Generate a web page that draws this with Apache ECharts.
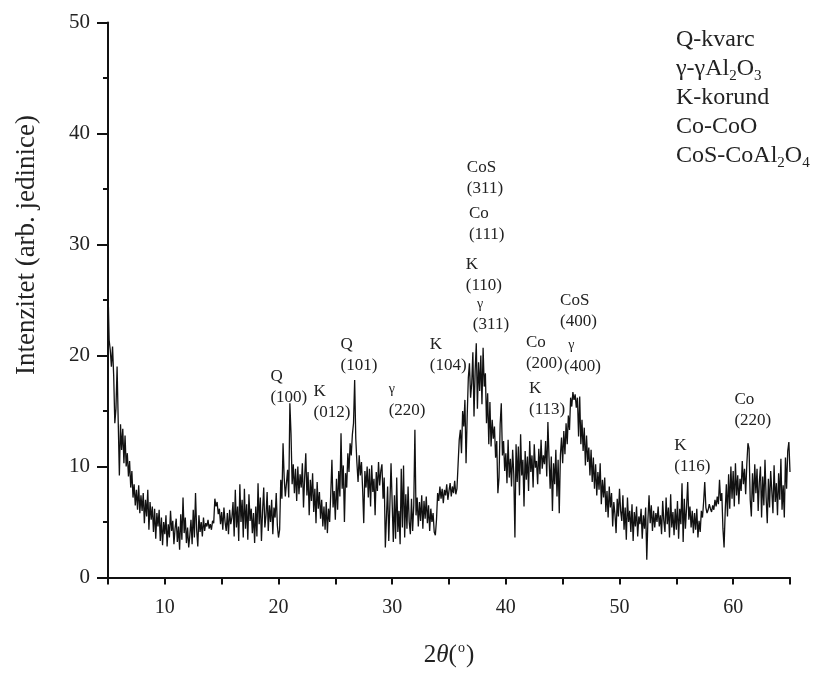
<!DOCTYPE html>
<html>

<head>
	<meta charset="UTF-8">
	<title>XRD</title>
	<style>
		html, body { margin: 0; padding: 0; background: #fff; }
		#chart1 { width: 829px; height: 673px; }
	</style>
	<script src="https://cdn.jsdelivr.net/npm/echarts@6/dist/echarts.min.js"></script>
</head>

<body>
	<div id="chart1"></div>
	<script>
		// 2theta grid of the scan (degrees)
		var thetaStart = 5, thetaStep = 0.1;

		// intensity, one row per degree (5.0 .. 65.0)
		var intensity = [
			26.0, 21.4, 20.5, 19.0, 20.8, 18.2, 13.9, 15.2, 19.0, 14.0,
			9.2, 13.8, 11.5, 13.4, 10.3, 12.8, 10.0, 11.2, 9.1, 10.5,
			8.1, 9.6, 7.2, 8.4, 6.5, 7.9, 6.1, 8.3, 5.8, 7.4,
			6.0, 7.6, 4.9, 7.0, 5.5, 7.9, 4.3, 6.8, 5.2, 6.4,
			4.1, 6.2, 3.5, 5.8, 4.6, 6.1, 3.3, 5.4, 2.9, 5.0,
			3.9, 5.6, 2.8, 4.8, 3.6, 6.0, 4.2, 5.1, 3.0, 4.4,
			5.3, 3.2, 4.6, 2.5, 5.7, 3.4, 7.2, 4.0, 5.4, 3.1,
			4.5, 2.7, 3.8, 5.2, 3.0, 6.1, 3.6, 7.6, 4.3, 2.8,
			5.6, 4.1, 5.0, 3.7, 5.4, 4.2, 4.9, 4.6, 5.2, 4.4,
			4.8, 4.3, 5.1, 4.9, 7.1, 6.4, 6.8, 5.7, 6.2, 4.8,
			5.9, 4.3, 6.3, 5.0, 4.2, 5.8, 3.9, 6.1, 4.8, 5.4,
			6.8, 3.7, 7.9, 4.5, 6.4, 3.3, 8.4, 5.0, 7.0, 3.6,
			8.0, 4.4, 6.6, 3.4, 7.5, 5.1, 6.2, 4.0, 5.8, 3.1,
			6.4, 3.7, 8.5, 4.8, 7.2, 3.3, 6.0, 8.1, 4.5, 5.6,
			7.7, 4.2, 6.5, 5.0, 7.0, 3.9, 6.3, 5.4, 7.6, 4.7,
			3.6, 4.3, 8.8, 7.1, 12.1, 9.0, 7.3, 8.5, 9.7, 7.2,
			15.7, 13.0, 8.4, 10.2, 7.6, 9.8, 6.9, 10.0, 7.5, 9.3,
			8.1, 10.3, 6.3, 9.0, 11.2, 7.4, 9.5, 5.6, 8.8, 6.9,
			9.4, 5.9, 8.0, 4.9, 8.6, 6.2, 7.7, 5.3, 7.0, 4.6,
			6.4, 4.3, 6.8, 4.0, 6.2, 5.0, 7.6, 10.6, 6.3, 7.8,
			5.2, 8.9, 6.1, 9.6, 7.3, 13.0, 8.0, 10.1, 5.0, 9.4,
			8.1, 11.2, 9.5, 12.1, 11.0, 12.9, 13.9, 17.8, 12.5, 10.3,
			8.6, 11.0, 9.2, 10.4, 8.0, 4.9, 9.6, 8.1, 10.0, 7.2,
			9.8, 6.4, 10.1, 7.7, 8.9, 5.6, 9.5, 7.8, 10.4, 8.3,
			9.6, 10.2, 7.1, 9.0, 2.7, 5.5, 8.2, 3.3, 6.6, 10.3,
			10.3, 3.2, 7.4, 3.5, 9.0, 4.1, 6.0, 3.0, 9.8, 4.5,
			10.1, 3.6, 7.5, 4.4, 8.2, 5.0, 3.9, 7.1, 4.2, 6.5,
			13.3, 5.6, 7.2, 4.6, 6.8, 5.1, 7.4, 4.4, 6.9, 5.3,
			7.3, 4.9, 6.5, 4.2, 6.2, 5.0, 5.8, 4.1, 3.8, 5.2,
			7.6, 6.9, 8.2, 7.1, 8.0, 6.7, 7.9, 7.4, 8.4, 7.0,
			7.8, 8.5, 7.3, 8.2, 7.6, 8.7, 7.5, 8.0, 10.2, 12.4,
			13.3, 11.2, 15.0, 13.6, 16.0, 10.3, 14.5, 18.0, 19.3, 16.2,
			17.5, 20.3, 14.5, 18.6, 21.1, 15.2, 19.4, 16.8, 20.0, 15.6,
			20.7, 17.2, 18.4, 13.9, 16.6, 12.0, 15.8, 11.8, 14.2, 12.5,
			13.6, 10.8, 12.3, 7.6, 9.0, 13.8, 15.7, 11.0, 12.3, 9.6,
			11.2, 8.5, 12.4, 9.0, 10.7, 8.2, 11.5, 9.3, 3.6, 12.0,
			8.6, 11.8, 7.4, 12.9, 9.2, 10.6, 6.4, 11.4, 8.8, 10.9,
			7.8, 12.3, 9.5, 11.0, 8.1, 12.0, 9.9, 10.5, 8.4, 11.6,
			9.3, 12.4, 9.8, 11.0, 10.2, 12.3, 9.1, 14.0, 10.8, 8.0,
			10.9, 6.0, 10.3, 8.4, 11.5, 7.3, 10.6, 5.8, 11.0, 12.6,
			10.3, 13.2, 11.1, 13.9, 12.0, 14.6, 13.3, 16.2, 15.4, 16.7,
			16.0, 16.5, 15.3, 16.2, 12.7, 16.3, 12.0, 14.2, 11.4, 13.5,
			10.1, 12.8, 10.4, 11.7, 9.2, 11.5, 8.6, 10.8, 8.0, 10.2,
			7.4, 9.5, 7.9, 10.3, 6.6, 8.8, 7.2, 9.0, 5.9, 7.8,
			5.4, 8.2, 6.3, 7.6, 4.6, 6.8, 5.7, 4.0, 7.1, 5.5,
			8.0, 6.0, 5.1, 7.4, 4.3, 6.3, 3.4, 7.2, 5.0, 6.0,
			4.1, 6.6, 3.3, 5.9, 4.6, 6.4, 3.7, 5.5, 4.8, 6.2,
			3.5, 5.6, 4.4, 6.3, 1.6, 5.2, 7.4, 4.9, 6.5, 4.2,
			6.0, 4.5, 5.8, 5.0, 6.4, 4.6, 5.6, 3.9, 6.9, 5.1,
			4.1, 7.2, 4.8, 6.3, 3.6, 7.5, 4.5, 5.9, 3.8, 6.2,
			4.3, 6.9, 3.5, 6.2, 4.8, 8.5, 3.2, 7.1, 4.4, 6.3,
			8.6, 5.2, 6.4, 4.5, 6.0, 4.0, 5.8, 4.3, 6.2, 3.6,
			5.1, 4.1, 6.0, 5.4, 6.8, 8.6, 6.3, 5.8, 6.1, 6.6,
			6.2, 5.9, 6.5, 6.1, 7.0, 6.4, 7.3, 6.6, 8.8, 6.9,
			7.6, 4.4, 2.7, 6.0, 8.4, 5.5, 9.3, 6.2, 10.0, 7.1,
			9.6, 6.4, 10.3, 7.4, 9.2, 6.6, 8.9, 7.8, 10.5, 8.4,
			9.8, 7.5, 10.2, 12.1, 11.6, 7.0, 5.5, 9.4, 6.8, 10.2,
			7.6, 9.8, 6.0, 8.6, 10.0, 5.4, 9.1, 6.5, 10.6, 7.2,
			4.9, 8.9, 6.3, 9.6, 7.8, 5.8, 10.1, 6.8, 8.5, 5.6,
			9.4, 7.0, 10.7, 6.1, 8.3, 5.4, 10.8, 8.0, 11.4, 12.2,
			9.5
		];

		// reflection labels: [2theta, intensity] of the label's left-middle, then text
		var peakPos = [
			[19.29, 17.2], [23.08, 15.8], [25.46, 20.0], [29.69, 16.0], [33.31, 20.0],
			[36.57, 35.95], [36.75, 31.8], [36.48, 27.25], [37.1, 23.7],
			[44.77, 24.0], [41.77, 20.18], [45.12, 19.95], [42.04, 16.04],
			[54.82, 10.95], [60.11, 15.09]
		];
		var peakText = [
			'Q\n(100)', 'K\n(012)', 'Q\n(101)', '{g|γ}\n(220)', 'K\n(104)',
			'CoS\n(311)', 'Co\n(111)', 'K\n(110)', ' {g|γ}\n(311)',
			'CoS\n(400)', 'Co\n(200)', ' {g|γ}\n(400)', 'K\n(113)',
			'K\n(116)', 'Co\n(220)'
		];

		// phase key, top right
		var phaseKey = [
			'Q-kvarc',
			'γ-γAl{s|2}O{s|3}',
			'K-korund',
			'Co-CoO',
			'CoS-CoAl{s|2}O{s|4}'
		];

		var serif = '"Liberation Serif", "DejaVu Serif", serif';

		var points = intensity.map(function (v, i) {
			return [+(thetaStart + i * thetaStep).toFixed(1), v];
		});

		var marks = peakPos.map(function (p, i) {
			return { coord: p, value: peakText[i] };
		});

		var myChart = echarts.init(document.getElementById('chart1'));
		myChart.setOption({
			animation: false,
			backgroundColor: '#fff',
			grid: { left: 108, right: 39, top: 22.5, bottom: 95.5 },
			xAxis: {
				type: 'value',
				min: 5,
				max: 65,
				interval: 5,
				name: '{n|2}{i|θ}{n|(}{sup|o}{n|)}',
				nameLocation: 'middle',
				nameGap: 64,
				nameTextStyle: {
					rich: {
						n: { fontFamily: serif, fontSize: 25, color: '#222' },
						i: { fontFamily: serif, fontSize: 25, fontStyle: 'italic', color: '#222' },
						sup: { fontFamily: serif, fontSize: 14, color: '#222', padding: [0, 1, 14, 1] }
					}
				},
				axisLine: { lineStyle: { color: '#111', width: 2 } },
				axisTick: { inside: false, length: 7, lineStyle: { color: '#111', width: 2 } },
				splitLine: { show: false },
				axisLabel: {
					margin: 20,
					fontFamily: serif,
					fontSize: 20,
					color: '#222',
					formatter: function (v) { return v % 10 === 0 ? v : ''; }
				}
			},
			yAxis: {
				type: 'value',
				min: 0,
				max: 50,
				interval: 10,
				axisLine: { show: true, lineStyle: { color: '#111', width: 2 } },
				axisTick: { show: true, inside: false, length: 11, lineStyle: { color: '#111', width: 2 } },
				minorTick: { show: true, splitNumber: 2, length: 5, lineStyle: { color: '#111', width: 2 } },
				splitLine: { show: false },
				axisLabel: { margin: 18, fontFamily: serif, fontSize: 21, color: '#222' }
			},
			graphic: [
				{
					type: 'text',
					x: 27,
					y: 245,
					rotation: Math.PI / 2,
					style: {
						text: 'Intenzitet (arb. jedinice)',
						font: '27px ' + serif,
						fill: '#222',
						textAlign: 'center',
						textVerticalAlign: 'middle'
					}
				},
				{
					type: 'text',
					left: 676,
					top: 25,
					style: {
						text: phaseKey.join('\n'),
						font: '24px ' + serif,
						fill: '#222',
						lineHeight: 29,
						rich: {
							s: { fontFamily: serif, fontSize: 15, fill: '#222', padding: [15, 0, 0, 0] }
						}
					}
				}
			],
			series: [
				{
					type: 'line',
					data: points,
					symbol: 'none',
					lineStyle: { color: '#111', width: 1.3 },
					markPoint: {
						symbol: 'circle',
						symbolSize: 0,
						data: marks,
						label: {
							show: true,
							position: 'inside',
							align: 'left',
							verticalAlign: 'middle',
							formatter: function (p) { return p.value; },
							fontFamily: serif,
							fontSize: 17,
							lineHeight: 21,
							color: '#222',
							rich: {
								g: { fontFamily: serif, fontSize: 14, color: '#222' }
							}
						}
					}
				}
			]
		});
	</script>
</body>

</html>
